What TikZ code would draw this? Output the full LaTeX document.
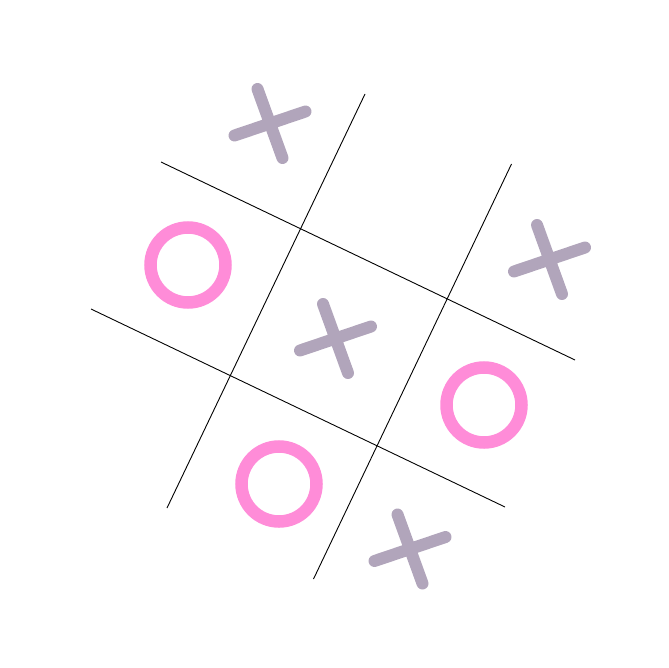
\documentclass[tikz,border=0pt]{standalone}
\usepackage{tikz}
\definecolor{xcol}{RGB}{177,165,187}
\definecolor{ocol}{RGB}{255,140,216}
\tikzset{
  gridline/.style={black, line width=0.9pt},
  xstroke/.style={xcol, line width=12pt, line cap=round},
  ostroke/.style={ocol, line width=12.5pt},
}
\begin{document}
\begin{tikzpicture}[x=1pt,y=-1pt]
\useasboundingbox (0,0) rectangle (668,668);
% grid lines
\coordinate (a1) at (161,162); \coordinate (a2) at (575,360);
\coordinate (b1) at (91,309);  \coordinate (b2) at (505,507);
\coordinate (c1) at (365,94);  \coordinate (c2) at (167,508);
\coordinate (d1) at (511.5,164); \coordinate (d2) at (313.5,579);
\draw[gridline] (a1) -- (a2);
\draw[gridline] (b1) -- (b2);
\draw[gridline] (c1) -- (c2);
\draw[gridline] (d1) -- (d2);
% X marks
\foreach \cx/\cy in {270/123.5, 549.5/259.5, 335.5/338.5, 410/549} {
  \draw[xstroke, shift={(\cx,\cy)}] (-12.5,-34.5) -- (12.5,34.5) (-35.5,12) -- (35.5,-12);
}
% O marks
\foreach \cx/\cy in {188/265, 484/405, 279/484} {
  \draw[ostroke] (\cx,\cy) circle[radius=37.5];
}
\end{tikzpicture}
\end{document}
